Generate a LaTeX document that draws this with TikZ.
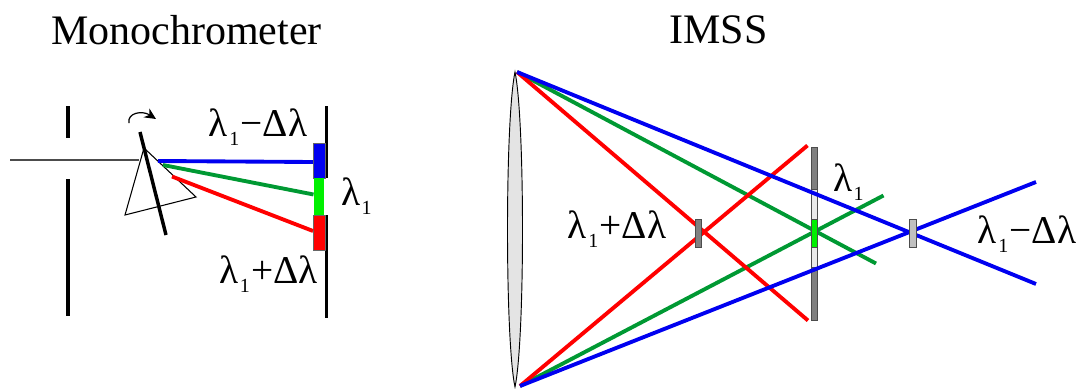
\documentclass[tikz,border=0pt]{standalone}
\usepackage{fontspec}
\setmainfont{Liberation Serif}
\usetikzlibrary{arrows.meta,positioning,calc}
\definecolor{RayBlue}{HTML}{0000F0}
\definecolor{RayGreen}{HTML}{009933}
\definecolor{RayRed}{HTML}{FF0000}
\definecolor{SlitGreen}{HTML}{00F000}
\definecolor{BarDark}{HTML}{808080}
\definecolor{BarLight}{HTML}{C0C0C0}
\definecolor{BarPale}{HTML}{EAEAEA}
\definecolor{LensGrey}{HTML}{E4E4E4}
\newcommand{\lamone}{λ\kern1pt\raisebox{-6.5pt}{\fontsize{15}{15}\selectfont 1}\kern1pt}
\begin{document}
\begin{tikzpicture}[
    x=0.75pt,y=-0.75pt,
    title/.style={font=\fontsize{31.5}{34}\selectfont,inner sep=0pt},
    lab/.style={font=\fontsize{29.5}{34}\selectfont,inner sep=0pt},
    ray/.style={line width=2.9pt},
    wall/.style={line width=2.6pt,black},
    bar/.style={draw=black!70,line width=0.7pt,inner sep=0pt,minimum width=4.6pt}
  ]
    \useasboundingbox (0,0) rectangle (1076,389);
    \node[title] (mono) at (186.5,30) {Monochrometer};
    \node[title] (imss) at (718.5,30) {IMSS};
    % monochromator
    \coordinate (slitA) at (68,106); \coordinate (slitB) at (68,138);
    \coordinate (slitC) at (68,179); \coordinate (slitD) at (68,316);
    \coordinate (beamIn) at (10,160); \coordinate (beamOut) at (139,160);
    \coordinate (mirrorA) at (140,132); \coordinate (mirrorB) at (166,235);
    \coordinate (prismA) at (144,148); \coordinate (prismB) at (196,197); \coordinate (prismC) at (125,215);
    \coordinate (turnA) at (129,123); \coordinate (turnB) at (156,119);
    \draw[wall] (slitA)--(slitB); \draw[wall] (slitC)--(slitD);
    \draw[black!70,line width=0.8pt] (beamIn)--(beamOut);
    \draw[line width=0.8pt] (prismA)--(prismB)--(prismC)--cycle;
    \draw[wall] (mirrorA)--(mirrorB);
    \draw[-{Stealth[length=3mm,width=2.8mm]},line width=0.9pt] (turnA) .. controls (127,113) and (142,110) .. (turnB);
    \coordinate (wallA) at (326.5,106); \coordinate (wallB) at (326.5,178);
    \coordinate (wallC) at (326.5,215); \coordinate (wallD) at (326.5,318);
    \draw[wall] (wallA)--(wallB); \draw[wall] (wallC)--(wallD);
    \node[draw=black!60,line width=0.5pt,fill=RayBlue,inner sep=0pt,minimum width=9.2pt,minimum height=26pt] (monoB) at (319.5,160.5) {};
    \node[fill=SlitGreen,inner sep=0pt,minimum width=7.8pt,minimum height=27.5pt] (monoG) at (319,196.5) {};
    \node[draw=black!60,line width=0.5pt,fill=RayRed,inner sep=0pt,minimum width=9.2pt,minimum height=26pt] (monoR) at (319.5,232.5) {};
    \coordinate (srcB) at (158,161); \coordinate (srcG) at (163,165); \coordinate (srcR) at (172,176.5);
    \draw[ray,RayBlue] (srcB)--(monoB.west |- 0,162);
    \draw[ray,RayGreen] (srcG)--(monoG.west |- 0,194.5);
    \draw[ray,RayRed] (srcR)--(monoR.west |- 0,231);
    \node[lab] (minusL) at (258,127) {\lamone−Δλ};
    \node[lab] (oneL) at (357,196) {\lamone};
    \node[lab] (plusL) at (268.5,274) {\lamone+Δλ};
    % imss
    \coordinate (lensT) at (515,72); \coordinate (lensU) at (515,387);
    \draw[fill=LensGrey,line width=0.7pt] (lensT) .. controls (505,120) and (505,340) .. (lensU) .. controls (525,340) and (525,120) .. (lensT) -- cycle;
    \coordinate (topP) at (517,72); \coordinate (lowP) at (520,386);
    \node[bar,fill=BarDark,minimum height=129.7pt] (barM) at (814.3,233.8) {};
    \node[bar,fill=BarPale,minimum height=58.5pt] (barP) at (814.3,228.5) {};
    \coordinate (redA) at (808,320.5); \coordinate (redB) at (807.5,145.5);
    \coordinate (greenA) at (876,263.5); \coordinate (greenB) at (883.5,195.5);
    \coordinate (blueA) at (1036,284); \coordinate (blueB) at (1036,182);
    \draw[ray,RayGreen] (topP)--(greenA); \draw[ray,RayGreen] (lowP)--(greenB);
    \draw[ray,RayRed] (topP)--(redA); \draw[ray,RayRed] (lowP)--(redB);
    \draw[ray,RayBlue] (topP)--(blueA); \draw[ray,RayBlue] (lowP)--(blueB);
    \node[bar,fill=SlitGreen,minimum height=20.6pt] (barG) at (814.3,233.5) {};
    \node[bar,fill=BarDark,minimum height=20.6pt] (barL) at (698.5,233.5) {};
    \node[bar,fill=BarLight,minimum width=5.2pt,minimum height=20.6pt] (barR) at (913,233.5) {};
    \node[lab] (plusR) at (617,229) {\lamone+Δλ};
    \node[lab] (oneR) at (849,182) {\lamone};
    \node[lab] (minusR) at (1027,234) {\lamone−Δλ};
  \end{tikzpicture}
\end{document}
